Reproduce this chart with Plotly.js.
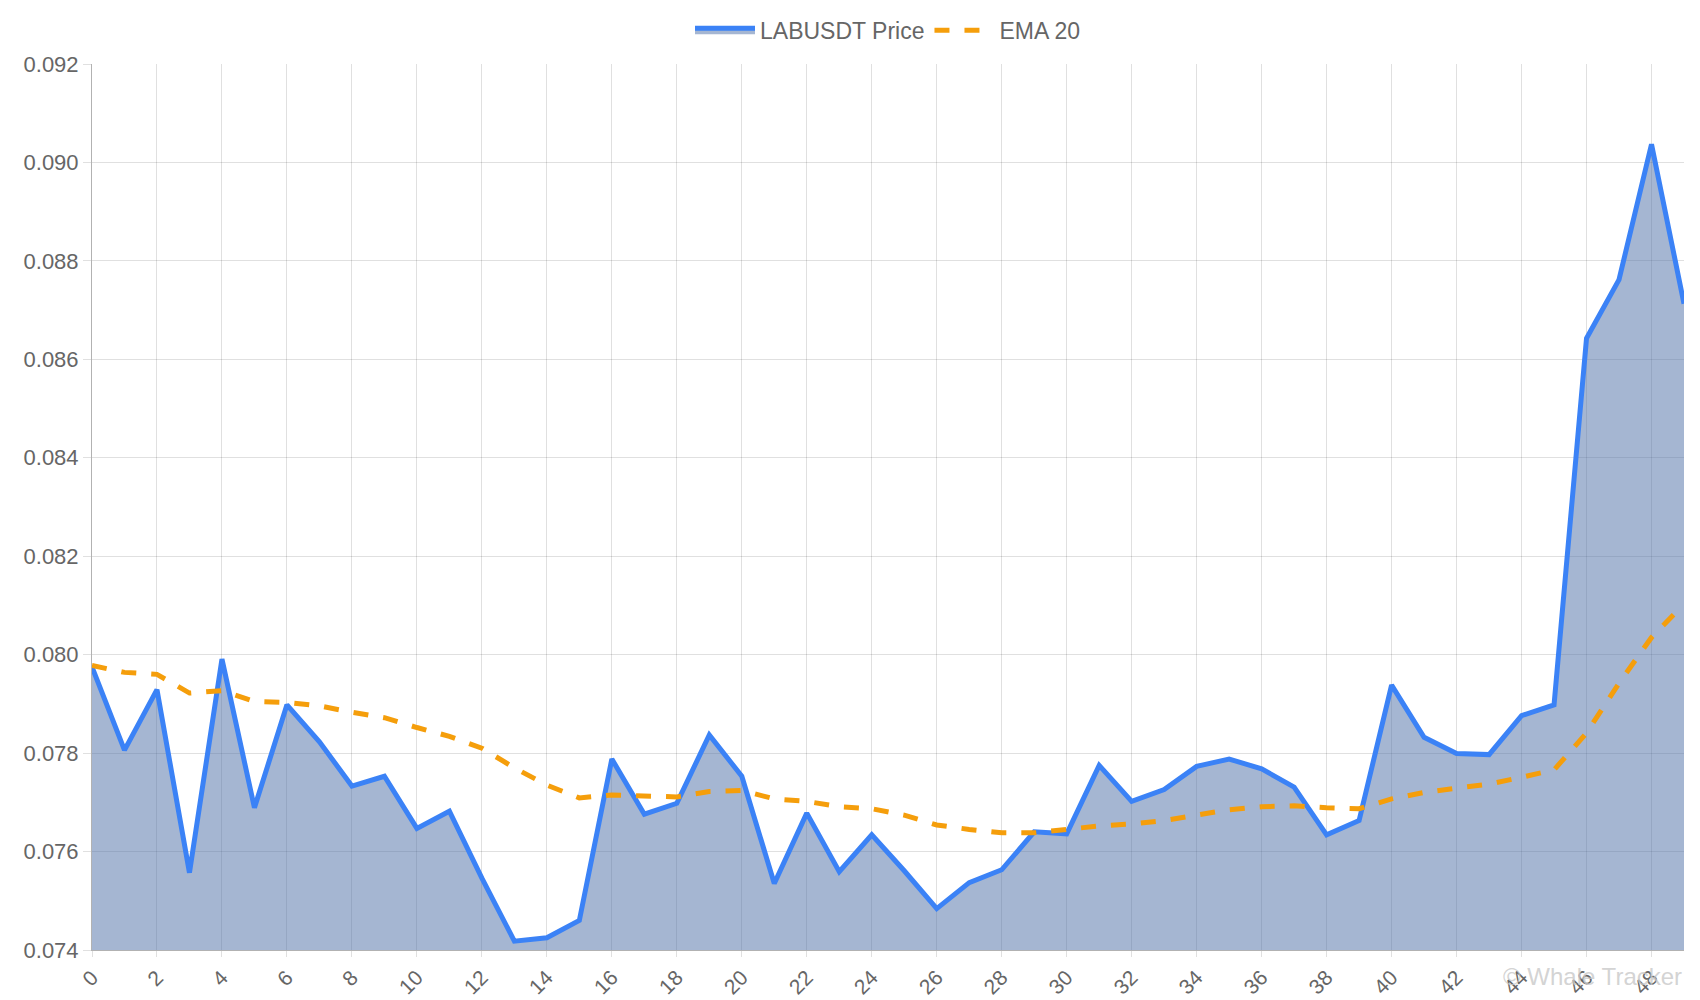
<!DOCTYPE html>
<html>
<head>
<meta charset="utf-8">
<script src="https://cdn.plot.ly/plotly-3.0.1.min.js"></script>
<style>html,body{margin:0;padding:0;background:#fff}#chart{width:1700px;height:1000px}</style>
</head>
<body>
<div id="chart"></div>
<script>
const price = [0.07975,0.07806,0.07929,0.07557,0.07991,0.07689,0.07898,0.07823,0.07733,0.07753,
  0.07647,0.07682,0.07546,0.07418,0.07425,0.07460,0.07788,0.07676,0.07698,0.07837,
  0.07753,0.07535,0.07678,0.07559,0.07634,0.07561,0.07484,0.07537,0.07563,0.07640,
  0.07636,0.07775,0.07702,0.07726,0.07773,0.07788,0.07768,0.07731,0.07634,0.07663,
  0.07938,0.07832,0.07799,0.07797,0.07876,0.07898,0.08643,0.08762,0.09037,0.08713];
const ema20 = [0.07978,0.07964,0.07960,0.07922,0.07927,0.07905,0.07903,0.07896,0.07883,0.07872,
  0.07852,0.07834,0.07810,0.07770,0.07735,0.07709,0.07715,0.07713,0.07711,0.07722,
  0.07724,0.07707,0.07702,0.07691,0.07687,0.07674,0.07654,0.07645,0.07638,0.07638,
  0.07645,0.07652,0.07656,0.07663,0.07674,0.07685,0.07691,0.07693,0.07689,0.07687,
  0.07707,0.07720,0.07729,0.07737,0.07751,0.07766,0.07841,0.07942,0.08035,0.08103];
const idx = price.map((_, i) => i);

const traces = [
  {
    x: idx, y: price, name: 'LABUSDT Price', type: 'scatter', mode: 'lines',
    fill: 'tozeroy', fillcolor: 'rgba(75,110,165,0.5)',
    line: { color: '#3b82f6', width: 5 }
  },
  {
    x: idx, y: ema20, name: 'EMA 20', type: 'scatter', mode: 'lines',
    line: { color: '#f59e0b', width: 5, dash: 'dash' }
  }
];

const layout = {
  width: 1700, height: 1000,
  paper_bgcolor: '#fff', plot_bgcolor: '#fff',
  margin: { l: 92, r: 16, t: 64, b: 50, autoexpand: false },
  font: { family: '"Liberation Sans", Arial, sans-serif', color: '#666', size: 22 },
  showlegend: true,
  legend: { orientation: 'h', x: 0.5, xanchor: 'center', y: 1.038, yanchor: 'middle',
    font: { size: 23, color: '#666' }, itemwidth: 60 },
  xaxis: {
    range: [0, 49], tickmode: 'linear', tick0: 0, dtick: 2, tickangle: -45,
    showgrid: true, gridcolor: 'rgba(0,0,0,0.12)', zeroline: false,
    showline: true, linecolor: 'rgba(0,0,0,0.3)', ticks: 'outside', ticklen: 6, tickcolor: 'rgba(0,0,0,0.12)',
    tickfont: { size: 21 }
  },
  yaxis: {
    range: [0.074, 0.092], tickmode: 'linear', tick0: 0.074, dtick: 0.002, tickformat: '.3f',
    showgrid: true, gridcolor: 'rgba(0,0,0,0.12)', zeroline: false,
    showline: true, linecolor: 'rgba(0,0,0,0.3)', ticks: 'outside', ticklen: 8, tickcolor: 'rgba(0,0,0,0.12)'
  },
  annotations: [{
    text: '© Whale Tracker', xref: 'paper', yref: 'paper', x: 1, y: -0.03,
    xanchor: 'right', yanchor: 'middle', showarrow: false,
    font: { size: 24, color: 'rgba(200,200,200,0.8)' }
  }]
};

Plotly.newPlot('chart', traces, layout, { displayModeBar: false });
</script>
</body>
</html>
